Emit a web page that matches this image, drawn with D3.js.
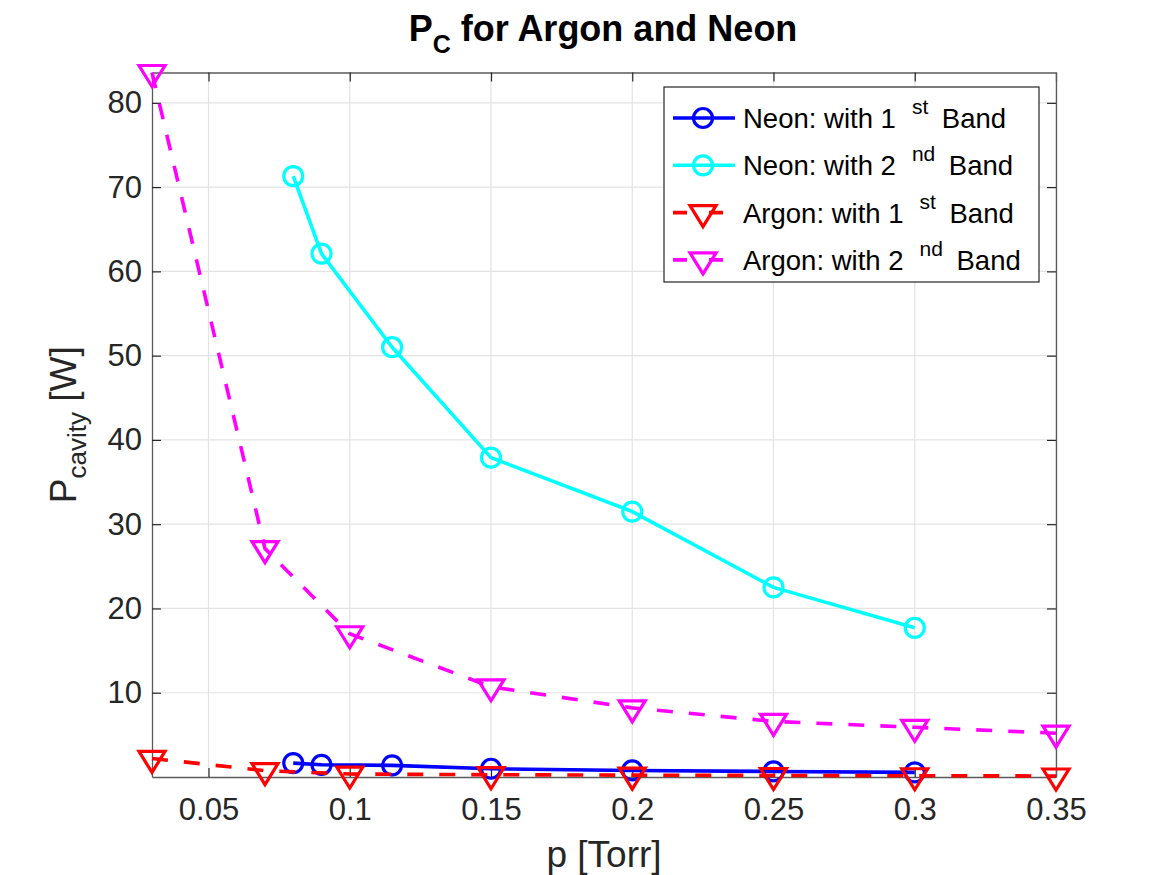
<!DOCTYPE html>
<html>
<head>
<meta charset="utf-8">
<script src="https://cdn.jsdelivr.net/npm/d3@7"></script>
<style>
  body { margin: 0; background: #fff; }
  svg { font-family: "Liberation Sans", Arial, Helvetica, sans-serif; }
</style>
</head>
<body>
<svg id="chart" width="1167" height="875"></svg>
<script>
// pressures [Torr]
var pNeon = [0.08, 0.09, 0.115, 0.15, 0.2, 0.25, 0.3];
var pArgon = [0.03, 0.07, 0.1, 0.15, 0.2, 0.25, 0.3, 0.35];

// cavity power [W]
var neonBand1 = [1.65, 1.45, 1.38, 0.98, 0.78, 0.66, 0.55];
var neonBand2 = [71.3, 62.1, 51.0, 37.9, 31.5, 22.5, 17.7];
var argonBand1 = [2.2, 0.75, 0.35, 0.27, 0.22, 0.18, 0.15, 0.12];
var argonBand2 = [83.6, 27.1, 17.0, 10.7, 8.2, 6.6, 5.9, 5.2];

var xTicks = [0.05, 0.1, 0.15, 0.2, 0.25, 0.3, 0.35];
var yTicks = [10, 20, 30, 40, 50, 60, 70, 80];

var legendGas = ["Neon", "Neon", "Argon", "Argon"];
var legendOrd = [["1", "st"], ["2", "nd"], ["1", "st"], ["2", "nd"]];

var series = [
  { x: pNeon, y: neonBand1, color: "#0000ff", dash: null, marker: "circle" },
  { x: pNeon, y: neonBand2, color: "#00ffff", dash: null, marker: "circle" },
  { x: pArgon, y: argonBand1, color: "#ff0000", dash: "16,16", marker: "tri" },
  { x: pArgon, y: argonBand2, color: "#ff00ff", dash: "16,16", marker: "tri" }
];

var svg = d3.select("#chart");
var margin = { top: 72.5, right: 111, bottom: 98, left: 152 };
var width = 1167 - margin.left - margin.right,
    height = 875 - margin.top - margin.bottom;

var x = d3.scaleLinear().domain([0.03, 0.35]).range([0, width]);
var y = d3.scaleLinear().domain([0, 83.6]).range([height, 0]);

var g = svg.append("g").attr("transform", "translate(" + margin.left + "," + margin.top + ")");

// grid
g.append("g")
  .selectAll("line.gx")
  .data(xTicks)
  .enter().append("line")
  .attr("x1", function (d) { return x(d); })
  .attr("x2", function (d) { return x(d); })
  .attr("y1", 0).attr("y2", height)
  .attr("stroke", "#e3e3e3").attr("stroke-width", 1.2);

g.append("g")
  .selectAll("line.gy")
  .data(yTicks)
  .enter().append("line")
  .attr("y1", function (d) { return y(d); })
  .attr("y2", function (d) { return y(d); })
  .attr("x1", 0).attr("x2", width)
  .attr("stroke", "#e3e3e3").attr("stroke-width", 1.2);

// axes, ticks inward
var tickLen = 9;
var axisColor = "#262626";

var xAxis = g.append("g")
  .attr("transform", "translate(0," + height + ")")
  .call(d3.axisBottom(x).tickValues(xTicks).tickSizeInner(-tickLen).tickSizeOuter(0).tickPadding(21)
    .tickFormat(function (d) { return String(d); }));
var xAxisTop = g.append("g")
  .call(d3.axisTop(x).tickValues(xTicks).tickSizeInner(-tickLen).tickSizeOuter(0).tickFormat(""));
var yAxis = g.append("g")
  .call(d3.axisLeft(y).tickValues(yTicks).tickSizeInner(-tickLen).tickSizeOuter(0).tickPadding(10));
var yAxisRight = g.append("g")
  .attr("transform", "translate(" + width + ",0)")
  .call(d3.axisRight(y).tickValues(yTicks).tickSizeInner(-tickLen).tickSizeOuter(0).tickFormat(""));

[xAxis, xAxisTop, yAxis, yAxisRight].forEach(function (a) {
  a.select(".domain").attr("stroke", "#5a5a5a").attr("stroke-width", 1.3);
  a.selectAll(".tick line").attr("stroke", axisColor).attr("stroke-width", 1.2);
  a.selectAll(".tick text")
    .attr("fill", axisColor)
    .attr("font-size", 31)
    .attr("font-family", "Liberation Sans, Arial, sans-serif");
});
xAxis.selectAll(".tick text").attr("dy", "0.71em");

// lines
var line = d3.line();
series.forEach(function (s) {
  var pts = s.x.map(function (v, i) { return [x(v), y(s.y[i])]; });
  g.append("path")
    .attr("d", line(pts))
    .attr("fill", "none")
    .attr("stroke", s.color)
    .attr("stroke-width", 3.6)
    .attr("stroke-dasharray", s.dash)
    .attr("stroke-linejoin", "round");

  var mk = g.append("g");
  pts.forEach(function (p) {
    drawMarker(mk, s.marker, p[0], p[1], s.color);
  });
});

function drawMarker(parent, kind, cx, cy, color) {
  if (kind === "circle") {
    parent.append("circle")
      .attr("cx", cx).attr("cy", cy).attr("r", 9.5)
      .attr("fill", "none").attr("stroke", color).attr("stroke-width", 3.2);
  } else {
    parent.append("path")
      .attr("d", "M" + (cx - 13) + "," + (cy - 7) + "L" + (cx + 13) + "," + (cy - 7) + "L" + cx + "," + (cy + 14) + "Z")
      .attr("fill", "none").attr("stroke", color).attr("stroke-width", 3.2)
      .attr("stroke-linejoin", "miter");
  }
}

// title
var title = svg.append("text")
  .attr("x", 603).attr("y", 41)
  .attr("text-anchor", "middle")
  .attr("font-size", 36).attr("font-weight", "bold").attr("fill", "#000");
title.append("tspan").text("P");
title.append("tspan").attr("font-size", 25).attr("dy", 12).text("C");
title.append("tspan").attr("dy", -12).text(" for Argon and Neon");

// x label
svg.append("text")
  .attr("x", margin.left + width / 2).attr("y", 867)
  .attr("text-anchor", "middle")
  .attr("font-size", 37).attr("fill", axisColor)
  .text("p [Torr]");

// y label
var yl = svg.append("text")
  .attr("transform", "translate(76," + (margin.top + height / 2) + ") rotate(-90)")
  .attr("text-anchor", "middle")
  .attr("font-size", 37).attr("fill", axisColor);
yl.append("tspan").text("P");
yl.append("tspan").attr("font-size", 26).attr("dy", 10).text("cavity");
yl.append("tspan").attr("dy", -10).text(" [W]");

// legend
var lg = svg.append("g");
lg.append("rect")
  .attr("x", 664).attr("y", 87).attr("width", 375).attr("height", 195)
  .attr("fill", "#fff").attr("stroke", axisColor).attr("stroke-width", 1.2);

series.forEach(function (s, i) {
  var cy = 118 + i * 47.3;
  lg.append("line")
    .attr("x1", 673).attr("x2", 735).attr("y1", cy).attr("y2", cy)
    .attr("stroke", s.color).attr("stroke-width", 3.6)
    .attr("stroke-dasharray", s.dash ? "14,22" : null);
  drawMarker(lg, s.marker, 703, cy, s.color);

  var t = lg.append("text")
    .attr("x", 743).attr("y", cy + 10)
    .attr("font-size", 27.5).attr("fill", "#000");
  t.append("tspan").text(legendGas[i] + ": with " + legendOrd[i][0]);
  t.append("tspan").attr("dx", 16).attr("dy", -14).attr("font-size", 21).text(legendOrd[i][1]);
  t.append("tspan").attr("dx", 6).attr("dy", 14).text(" Band");
});
</script>
</body>
</html>
